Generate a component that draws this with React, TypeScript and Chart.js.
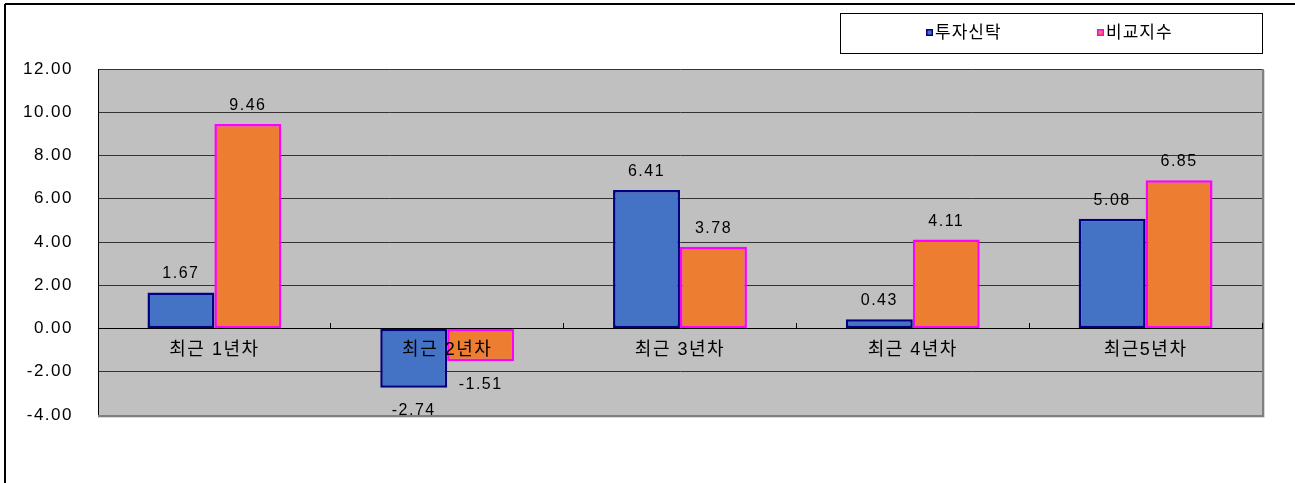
import { useEffect, useRef } from "react";
import { Chart, registerables } from "chart.js";

Chart.register(...registerables);

const categories = ["최근 1년차", "최근 2년차", "최근 3년차", "최근 4년차", "최근5년차"];
const fundValues = [1.67, -2.74, 6.41, 0.43, 5.08];
const indexValues = [9.46, -1.51, 3.78, 4.11, 6.85];
const seriesNames = ["투자신탁", "비교지수"];
const yMin = -4;
const yMax = 12;
const yStep = 2;

const FONT = "'Liberation Sans', 'Noto Sans CJK KR', sans-serif";
const SPACING = "1.5px";

const framePlugin = {
  id: "frame",
  beforeDraw(chart: any) {
    const ctx = chart.ctx;
    const { left, top, right, bottom } = chart.chartArea;
    ctx.save();
    ctx.fillStyle = "#ffffff";
    ctx.fillRect(0, 0, chart.width, chart.height);
    ctx.strokeStyle = "#000000";
    ctx.lineWidth = 2;
    ctx.beginPath();
    ctx.moveTo(5, 4);
    ctx.lineTo(chart.width, 4);
    ctx.moveTo(5, 4);
    ctx.lineTo(5, chart.height);
    ctx.stroke();
    ctx.fillStyle = "#c0c0c0";
    ctx.fillRect(left, top, right - left, bottom - top);
    ctx.restore();
    (ctx as any).letterSpacing = SPACING;
  },
  beforeDatasetsDraw(chart: any) {
    const ctx = chart.ctx;
    const { left, top, right, bottom } = chart.chartArea;
    ctx.save();
    ctx.strokeStyle = "#d8d8d8";
    ctx.lineWidth = 1;
    ctx.beginPath();
    ctx.moveTo(right + 2.5, top + 1);
    ctx.lineTo(right + 2.5, bottom + 2.5);
    ctx.lineTo(left, bottom + 2.5);
    ctx.stroke();
    ctx.strokeStyle = "#808080";
    ctx.lineWidth = 2;
    ctx.beginPath();
    ctx.moveTo(right + 1, top);
    ctx.lineTo(right + 1, bottom + 1);
    ctx.lineTo(left, bottom + 1);
    ctx.stroke();
    ctx.restore();
  },
  afterDraw(chart: any) {
    (chart.ctx as any).letterSpacing = "0px";
  },
};

const valueLabelPlugin = {
  id: "valueLabels",
  afterDatasetsDraw(chart: any) {
    const ctx = chart.ctx;
    ctx.save();
    (ctx as any).letterSpacing = SPACING;
    ctx.font = `16px ${FONT}`;
    ctx.fillStyle = "#000000";
    ctx.textAlign = "center";
    chart.data.datasets.forEach((ds: any, di: number) => {
      const meta = chart.getDatasetMeta(di);
      meta.data.forEach((el: any, i: number) => {
        const v = ds.data[i] as number;
        const { x, y } = el.getProps(["x", "y"], true);
        if (v >= 0) {
          ctx.textBaseline = "alphabetic";
          ctx.fillText(v.toFixed(2), x, y - 14);
        } else {
          ctx.textBaseline = "top";
          ctx.fillText(v.toFixed(2), x, y + 15);
        }
      });
    });
    ctx.restore();
  },
};

const legendPlugin = {
  id: "boxLegend",
  afterDraw(chart: any) {
    const ctx = chart.ctx;
    ctx.save();
    (ctx as any).letterSpacing = "1px";
    ctx.fillStyle = "#ffffff";
    ctx.fillRect(840, 13, 422, 40);
    ctx.strokeStyle = "#000000";
    ctx.lineWidth = 1;
    ctx.strokeRect(840.5, 13.5, 422, 40);
    const itemX = [926, 1097];
    ctx.font = `17px ${FONT}`;
    ctx.textBaseline = "middle";
    ctx.textAlign = "left";
    chart.data.datasets.forEach((ds: any, i: number) => {
      const x = itemX[i];
      ctx.fillStyle = ds.borderColor;
      ctx.fillRect(x, 29, 7, 7);
      ctx.fillStyle = ds.backgroundColor;
      ctx.fillRect(x + 1.5, 30.5, 4, 4);
      ctx.fillStyle = "#000000";
      ctx.fillText(ds.label, x + 9, 33);
    });
    ctx.restore();
  },
};

export default function App() {
  const canvasRef = useRef<HTMLCanvasElement | null>(null);

  useEffect(() => {
    if (!canvasRef.current) return;
    const chart = new Chart(canvasRef.current, {
      type: "bar",
      data: {
        labels: categories,
        datasets: [
          {
            label: seriesNames[0],
            data: fundValues,
            backgroundColor: "#4472c4",
            borderColor: "#000080",
            borderWidth: 2.5,
            borderSkipped: false,
            categoryPercentage: 0.575,
            barPercentage: 1,
          },
          {
            label: seriesNames[1],
            data: indexValues,
            backgroundColor: "#ed7d31",
            borderColor: "#ff00ff",
            borderWidth: 2.5,
            borderSkipped: false,
            categoryPercentage: 0.575,
            barPercentage: 1,
          },
        ],
      },
      options: {
        animation: false,
        responsive: true,
        maintainAspectRatio: false,
        layout: { padding: { top: 69, bottom: 68, right: 33, left: 0 } },
        plugins: {
          legend: { display: false },
          tooltip: { enabled: false },
        },
        scales: {
          x: {
            position: { y: 0 } as any,
            grid: {
              display: true,
              drawOnChartArea: false,
              drawTicks: true,
              tickLength: -6,
              color: "#000000",
              offset: true,
              z: 1,
            },
            border: { display: true, color: "#000000", width: 1, z: 1 },
            ticks: {
              color: "#000000",
              font: { family: FONT, size: 18 },
              padding: 17,
              maxRotation: 0,
              autoSkip: false,
              z: 1,
            },
          },
          y: {
            min: yMin,
            max: yMax,
            ticks: {
              stepSize: yStep,
              callback: (v: any) => Number(v).toFixed(2),
              color: "#000000",
              font: { family: FONT, size: 17 },
              padding: 25,
            },
            grid: { color: "#333333", drawTicks: false, lineWidth: 1 },
            border: { display: true, color: "#000000", width: 1 },
            afterFit: (s: any) => {
              s.width = 98;
            },
          },
        },
      },
      plugins: [framePlugin, valueLabelPlugin, legendPlugin],
    });
    return () => chart.destroy();
  }, []);

  return (
    <div style={{ position: "absolute", left: 0, top: 0, width: 1295, height: 483 }}>
      <canvas ref={canvasRef} />
    </div>
  );
}
